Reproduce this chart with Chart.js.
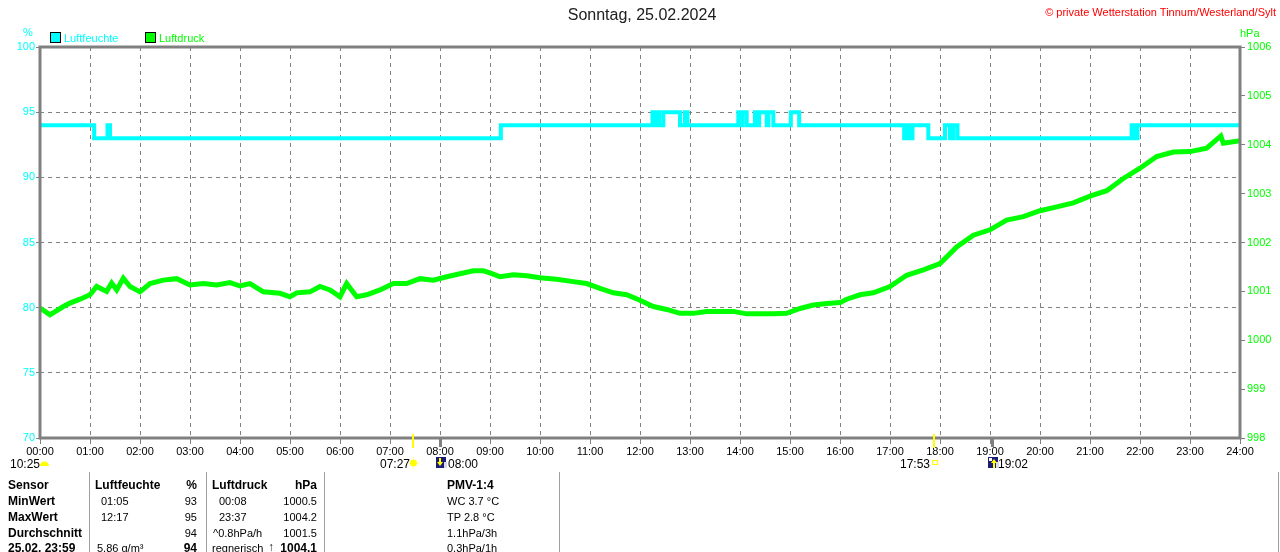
<!DOCTYPE html>
<html>
<head>
<meta charset="utf-8">
<script src="https://cdn.jsdelivr.net/npm/chart.js@4.4.1/dist/chart.umd.min.js"></script>
<style>
html,body{margin:0;padding:0;background:#fff;overflow:hidden}
#wrap{position:relative;width:1280px;height:552px;font-family:"Liberation Sans",Arial,sans-serif;overflow:hidden}
#c{position:absolute;left:0;top:0}
.t{position:absolute;white-space:nowrap;font-size:11px;line-height:14px;color:#000}
.b{font-weight:bold;font-size:12px}
.r{text-align:right}
.sep{position:absolute;top:472px;width:1px;height:80px;background:#a0a0a0}
.sq{position:absolute;width:9px;height:9px;border:1px solid #000}
</style>
</head>
<body>
<div id="wrap">
<canvas id="c" width="1280" height="552"></canvas>

<div class="t" style="left:0;width:1284px;top:6px;font-size:16px;line-height:18px;text-align:center;color:#202020">Sonntag, 25.02.2024</div>
<div class="t r" style="right:4px;top:5px;color:#ff0000">© private Wetterstation Tinnum/Westerland/Sylt</div>
<div class="t" style="left:23px;top:25px;color:#00ffff">%</div>
<div class="t" style="left:1240px;top:26px;color:#00ff00">hPa</div>
<div class="sq" style="left:50px;top:32px;background:#00ffff"></div>
<div class="t" style="left:64px;top:31px;color:#00ffff">Luftfeuchte</div>
<div class="sq" style="left:145px;top:32px;background:#00ff00"></div>
<div class="t" style="left:159px;top:31px;color:#00ff00">Luftdruck</div>

<div class="t" style="left:10px;top:457px;font-size:12px">10:25</div>
<div class="t" style="left:380px;top:457px;font-size:12px">07:27</div>
<div class="t" style="left:448px;top:457px;font-size:12px">08:00</div>
<div class="t" style="left:900px;top:457px;font-size:12px">17:53</div>
<div class="t" style="left:998px;top:457px;font-size:12px">19:02</div>

<div class="sep" style="left:89px"></div>
<div class="sep" style="left:206px"></div>
<div class="sep" style="left:324px"></div>
<div class="sep" style="left:559px"></div>
<div class="sep" style="left:1278px"></div>

<div class="t b" style="left:8px;top:478px">Sensor</div>
<div class="t b" style="left:95px;top:478px">Luftfeuchte</div>
<div class="t b r" style="left:150px;width:47px;top:478px">%</div>
<div class="t b" style="left:212px;top:478px">Luftdruck</div>
<div class="t b r" style="left:260px;width:57px;top:478px">hPa</div>
<div class="t b" style="left:447px;top:478px">PMV-1:4</div>

<div class="t b" style="left:8px;top:494px">MinWert</div>
<div class="t" style="left:101px;top:494px">01:05</div>
<div class="t r" style="left:150px;width:47px;top:494px">93</div>
<div class="t" style="left:219px;top:494px">00:08</div>
<div class="t r" style="left:260px;width:57px;top:494px">1000.5</div>
<div class="t" style="left:447px;top:494px">WC 3.7 °C</div>

<div class="t b" style="left:8px;top:510px">MaxWert</div>
<div class="t" style="left:101px;top:510px">12:17</div>
<div class="t r" style="left:150px;width:47px;top:510px">95</div>
<div class="t" style="left:219px;top:510px">23:37</div>
<div class="t r" style="left:260px;width:57px;top:510px">1004.2</div>
<div class="t" style="left:447px;top:510px">TP 2.8 °C</div>

<div class="t b" style="left:8px;top:526px">Durchschnitt</div>
<div class="t r" style="left:150px;width:47px;top:526px">94</div>
<div class="t" style="left:213px;top:526px">^0.8hPa/h</div>
<div class="t r" style="left:260px;width:57px;top:526px">1001.5</div>
<div class="t" style="left:447px;top:526px">1.1hPa/3h</div>

<div class="t b" style="left:8px;top:541px">25.02. 23:59</div>
<div class="t" style="left:97px;top:541px">5.86 g/m³</div>
<div class="t b r" style="left:150px;width:47px;top:541px">94</div>
<div class="t" style="left:212px;top:541px">regnerisch</div>
<div class="t" style="left:268px;top:540px;color:#202020;font-weight:bold;font-size:12px">↑</div>
<div class="t b r" style="left:260px;width:57px;top:541px">1004.1</div>
<div class="t" style="left:447px;top:541px">0.3hPa/1h</div>
</div>

<script>
// ---- data (time in minutes since 00:00) ----
const humidityTimes = [0,65,81,84,553,735,738,740,743,748,768,774,777,838,841,843,848,858,861,863,872,874,880,901,911,1037,1040,1043,1047,1066,1086,1092,1096,1101,1310,1314,1317,1440];
const humidityValues = [94,93,94,93,94,95,94,95,94,95,94,95,94,95,94,95,94,95,94,95,94,95,94,95,94,93,94,93,94,93,94,93,94,93,94,93,94,94];

const pressureTimes = [0,12,28,36,48,60,68,80,86,92,100,108,120,132,148,164,180,196,212,228,240,252,268,288,300,308,324,336,348,360,368,380,392,408,424,440,456,472,488,504,520,532,540,552,568,584,600,620,640,656,672,688,704,720,736,752,768,784,800,816,832,848,864,880,896,912,928,944,960,968,984,1000,1020,1040,1060,1080,1100,1120,1140,1160,1180,1200,1220,1240,1260,1280,1300,1320,1340,1360,1380,1400,1417,1420,1440];
const pressureValues = [1000.66,1000.52,1000.69,1000.76,1000.84,1000.93,1001.10,1001.00,1001.17,1001.03,1001.27,1001.10,1000.99,1001.16,1001.23,1001.26,1001.13,1001.16,1001.13,1001.18,1001.11,1001.16,1000.99,1000.96,1000.89,1000.97,1000.99,1001.10,1001.03,1000.89,1001.16,1000.89,1000.93,1001.03,1001.16,1001.16,1001.26,1001.23,1001.30,1001.36,1001.42,1001.42,1001.38,1001.30,1001.34,1001.32,1001.28,1001.25,1001.20,1001.16,1001.06,1000.97,1000.93,1000.82,1000.69,1000.63,1000.55,1000.55,1000.59,1000.59,1000.59,1000.54,1000.54,1000.54,1000.55,1000.65,1000.72,1000.75,1000.77,1000.84,1000.93,1000.97,1001.10,1001.33,1001.44,1001.57,1001.91,1002.15,1002.26,1002.46,1002.53,1002.65,1002.73,1002.81,1002.95,1003.06,1003.31,1003.52,1003.76,1003.85,1003.86,1003.93,1004.18,1004.03,1004.08];

const humidityTicks = [70,75,80,85,90,95,100];
const pressureTicks = [998,999,1000,1001,1002,1003,1004,1005,1006];
const sunTimes = [447, 1073];   // 07:27 sunrise, 17:53 sunset
const moonTimes = [480, 1142];  // 08:00, 19:02

const humidityData = humidityTimes.map((t,i)=>({x:t,y:humidityValues[i]}));
const pressureData = pressureTimes.map((t,i)=>({x:t,y:pressureValues[i]}));

function hhmm(v){ return String(Math.round(v/60)).padStart(2,'0')+':00'; }

const overlay = {
  id:'overlay',
  afterDatasetsDraw(chart){
    const ctx = chart.ctx, a = chart.chartArea, xs = chart.scales.x;
    ctx.save();
    ctx.strokeStyle = '#808080'; ctx.lineWidth = 3; ctx.setLineDash([]);
    ctx.strokeRect(a.left, a.top, a.right - a.left, a.bottom - a.top);
    moonTimes.forEach(t=>{
      const x = Math.round(xs.getPixelForValue(t));
      ctx.fillStyle = '#808080'; ctx.fillRect(x-1, a.bottom, 3, 9);
    });
    sunTimes.forEach(t=>{
      const x = Math.round(xs.getPixelForValue(t));
      ctx.fillStyle = '#ffff00'; ctx.fillRect(x-1, a.bottom-4, 2, 14);
    });
    const yi = a.bottom + 25;
    ctx.fillStyle = '#ffff00';
    ctx.beginPath(); ctx.arc(44.5, yi+3, 4.5, Math.PI, 0); ctx.closePath(); ctx.fill();
    let sx = xs.getPixelForValue(sunTimes[0]) + 1;
    ctx.fillStyle = '#ffff00';
    ctx.beginPath(); ctx.arc(sx, yi, 3.5, 0, Math.PI*2); ctx.fill();
    ctx.fillStyle = '#ffff99';
    ctx.fillRect(sx-0.5, yi-6, 1, 2); ctx.fillRect(sx-0.5, yi+4, 1, 2);
    ctx.fillRect(sx-6, yi-0.5, 2, 1); ctx.fillRect(sx+4, yi-0.5, 2, 1);
    let ss = xs.getPixelForValue(sunTimes[1]);
    ctx.strokeStyle = '#ffff00'; ctx.lineWidth = 1;
    ctx.strokeRect(ss-1.5, yi-2.5, 5, 4);
    moonTimes.forEach((t,i)=>{
      const mx = Math.round(xs.getPixelForValue(t));
      const x0 = mx-4;
      ctx.fillStyle = '#1c1c78'; ctx.fillRect(x0, yi-6, 10, 11);
      ctx.fillStyle = '#d8d8f0'; ctx.fillRect(x0+8, yi-1, 3, 6);
      ctx.fillStyle = '#ffff00';
      if(i===0){ ctx.fillRect(x0+3, yi-5, 2, 5); ctx.beginPath(); ctx.moveTo(x0+1,yi-1); ctx.lineTo(x0+7,yi-1); ctx.lineTo(x0+4,yi+3); ctx.fill(); }
      else { ctx.fillRect(x0+5, yi-1, 2, 6); ctx.beginPath(); ctx.moveTo(x0+3,yi); ctx.lineTo(x0+9,yi); ctx.lineTo(x0+6,yi-4); ctx.fill();
             ctx.fillStyle='#ffffff'; ctx.fillRect(x0+1, yi-5, 3, 3); }
    });
    ctx.restore();
  }
};

new Chart(document.getElementById('c'), {
  type:'line',
  data:{ datasets:[
    { label:'Luftdruck', data:pressureData, yAxisID:'yR', borderColor:'#00ff00', backgroundColor:'#00ff00', borderWidth:5, pointRadius:0, tension:0, order:2 },
    { label:'Luftfeuchte', data:humidityData, yAxisID:'yL', borderColor:'#00ffff', backgroundColor:'#00ffff', borderWidth:4, pointRadius:0, stepped:true, order:1 }
  ]},
  options:{
    responsive:false, animation:false, devicePixelRatio:1,
    layout:{ padding:{ top:47, left:0, right:0, bottom:0 } },
    plugins:{ legend:{display:false}, tooltip:{enabled:false}, title:{display:false} },
    scales:{
      x:{ type:'linear', min:0, max:1440,
          afterFit(s){ s.height = 114; },
          afterBuildTicks(s){ s.ticks = Array.from({length:25},(_,i)=>({value:i*60})); },
          ticks:{ callback:hhmm, color:'#000', font:{family:'Liberation Sans', size:11}, padding:1, maxRotation:0, autoSkip:false },
          grid:{ color:'#808080', lineWidth:1, tickLength:6, tickColor:'#808080', tickBorderDash:[] },
          border:{ display:false, dash:[4,4] } },
      yL:{ type:'linear', position:'left', min:70, max:100,
          afterFit(s){ s.width = 40; },
          afterBuildTicks(s){ s.ticks = humidityTicks.map(v=>({value:v})); },
          ticks:{ callback:v=>String(v), color:'#00ffff', font:{family:'Liberation Sans', size:11}, padding:1 },
          grid:{ color:'#808080', lineWidth:1, tickLength:4, tickColor:'#808080', tickBorderDash:[] },
          border:{ display:false, dash:[4,4] } },
      yR:{ type:'linear', position:'right', min:998, max:1006,
          afterFit(s){ s.width = 40; },
          afterBuildTicks(s){ s.ticks = pressureTicks.map(v=>({value:v})); },
          ticks:{ callback:v=>String(v), color:'#00ff00', font:{family:'Liberation Sans', size:11}, padding:2 },
          grid:{ drawOnChartArea:false, tickLength:5, tickColor:'#808080' },
          border:{ display:false } }
    }
  },
  plugins:[overlay]
});
</script>
</body>
</html>
